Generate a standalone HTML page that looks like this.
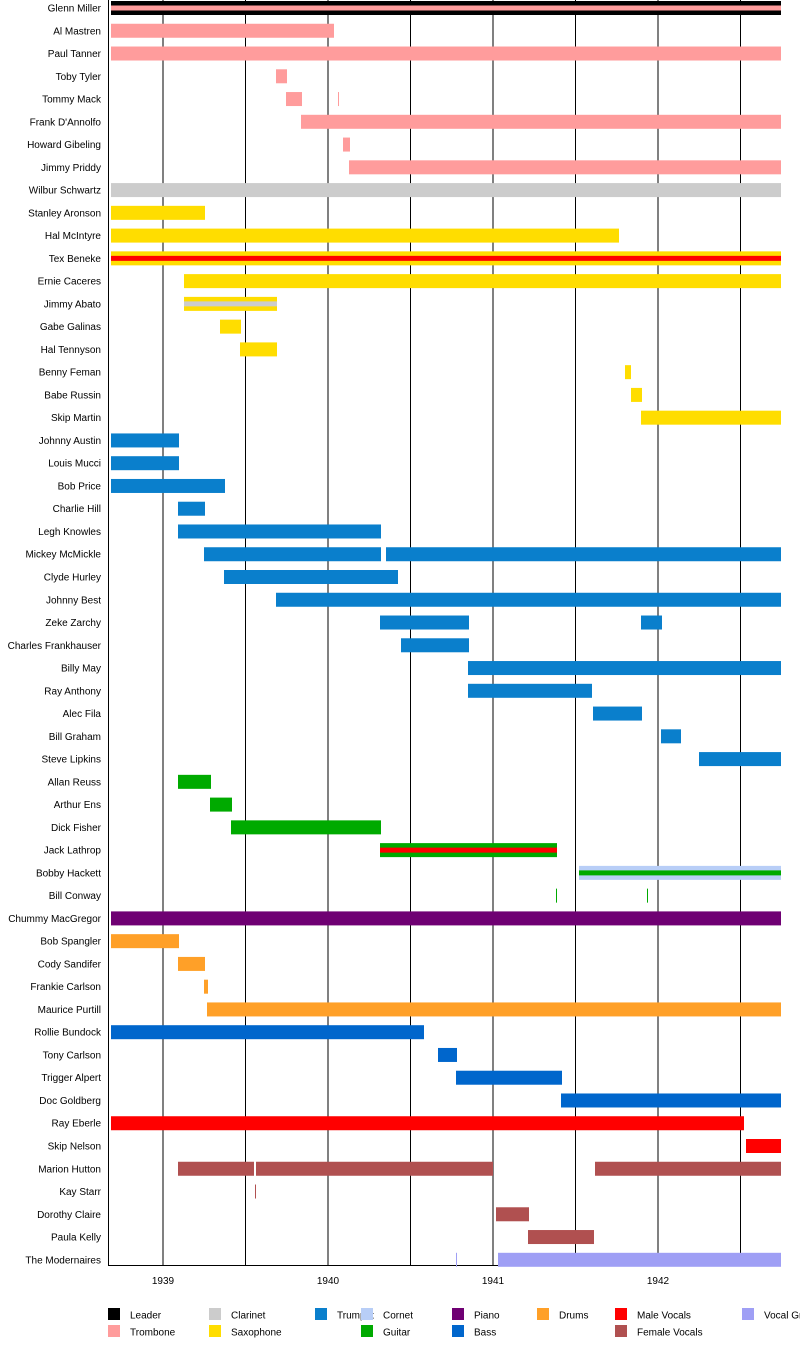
<!DOCTYPE html>
<html><head><meta charset="utf-8"><style>body{margin:0;background:#fff}svg{display:block}text{font-family:"Liberation Sans",sans-serif;font-size:10px}</style></head><body>
<svg id="s" width="800" height="1345" xmlns="http://www.w3.org/2000/svg">
<g stroke="#000" stroke-width="1">
<line x1="163" y1="0" x2="163" y2="1265"/><line x1="245.5" y1="0" x2="245.5" y2="1265"/><line x1="328" y1="0" x2="328" y2="1265"/><line x1="410.5" y1="0" x2="410.5" y2="1265"/><line x1="493" y1="0" x2="493" y2="1265"/><line x1="575.5" y1="0" x2="575.5" y2="1265"/><line x1="658" y1="0" x2="658" y2="1265"/><line x1="740.5" y1="0" x2="740.5" y2="1265"/>
<line x1="108.5" y1="0" x2="108.5" y2="1265"/><line x1="108" y1="1265.5" x2="781" y2="1265.5"/>
</g>
<g text-anchor="middle"><text x="163" y="1284">1939</text><text x="328" y="1284">1940</text><text x="493" y="1284">1941</text><text x="658" y="1284">1942</text></g>
<g id="bars"></g>
<g id="labels" text-anchor="end"></g>
<g id="leg"></g>
</svg>
<script>
var C={tb:"#ff9c9c",cl:"#cccccc",sx:"#ffdd00",tr:"#0a7fcc",gt:"#00aa00",co:"#b8cef7",pi:"#6f0073",dr:"#ffa028",bs:"#0066cc",mv:"#ff0000",fv:"#b05050",vg:"#9f9ff5",ld:"#000000"};
var R=[
["Glenn Miller","ld",[[111,781]],"tb"],["Al Mastren","tb",[[111,334]]],["Paul Tanner","tb",[[111,781]]],["Toby Tyler","tb",[[276,287]]],["Tommy Mack","tb",[[286,302],[338,339]]],["Frank D'Annolfo","tb",[[301,781]]],["Howard Gibeling","tb",[[343,350]]],["Jimmy Priddy","tb",[[349,781]]],
["Wilbur Schwartz","cl",[[111,781]]],["Stanley Aronson","sx",[[111,205]]],["Hal McIntyre","sx",[[111,619]]],["Tex Beneke","sx",[[111,781]],"mv"],["Ernie Caceres","sx",[[184,781]]],["Jimmy Abato","sx",[[184,277]],"cl"],["Gabe Galinas","sx",[[220,241]]],["Hal Tennyson","sx",[[240,277]]],["Benny Feman","sx",[[625,631]]],["Babe Russin","sx",[[631,642]]],["Skip Martin","sx",[[641,781]]],
["Johnny Austin","tr",[[111,179]]],["Louis Mucci","tr",[[111,179]]],["Bob Price","tr",[[111,225]]],["Charlie Hill","tr",[[178,205]]],["Legh Knowles","tr",[[178,381]]],["Mickey McMickle","tr",[[204,381],[386,781]]],["Clyde Hurley","tr",[[224,398]]],["Johnny Best","tr",[[276,781]]],["Zeke Zarchy","tr",[[380,469],[641,662]]],["Charles Frankhauser","tr",[[401,469]]],["Billy May","tr",[[468,781]]],["Ray Anthony","tr",[[468,592]]],["Alec Fila","tr",[[593,642]]],["Bill Graham","tr",[[661,681]]],["Steve Lipkins","tr",[[699,781]]],
["Allan Reuss","gt",[[178,211]]],["Arthur Ens","gt",[[210,232]]],["Dick Fisher","gt",[[231,381]]],["Jack Lathrop","gt",[[380,557]],"mv"],["Bobby Hackett","co",[[579,781]],"gt"],["Bill Conway","gt",[[556,557],[647,648]]],
["Chummy MacGregor","pi",[[111,781]]],["Bob Spangler","dr",[[111,179]]],["Cody Sandifer","dr",[[178,205]]],["Frankie Carlson","dr",[[204,208]]],["Maurice Purtill","dr",[[207,781]]],
["Rollie Bundock","bs",[[111,424]]],["Tony Carlson","bs",[[438,457]]],["Trigger Alpert","bs",[[456,562]]],["Doc Goldberg","bs",[[561,781]]],
["Ray Eberle","mv",[[111,744]]],["Skip Nelson","mv",[[746,781]]],["Marion Hutton","fv",[[178,254],[256,493],[595,781]]],["Kay Starr","fv",[[255,256]]],["Dorothy Claire","fv",[[496,529]]],["Paula Kelly","fv",[[528,594]]],["The Modernaires","vg",[[456,457],[498,781]]]];
var ns="http://www.w3.org/2000/svg",B=document.getElementById("bars"),L=document.getElementById("labels"),G=document.getElementById("leg");
function rect(p,x,y,w,h,f){var r=document.createElementNS(ns,"rect");r.setAttribute("x",x);r.setAttribute("y",y);r.setAttribute("width",w);r.setAttribute("height",h);r.setAttribute("fill",f);p.appendChild(r);}
function txt(p,x,y,s){var t=document.createElementNS(ns,"text");t.setAttribute("x",x);t.setAttribute("y",y);t.textContent=s;p.appendChild(t);}
R.forEach(function(r,i){var y=8+i*22.76;txt(L,101,y+3.5,r[0]);r[2].forEach(function(s){var w=s[1]-s[0];
if(w<=2){rect(B,s[0],y-7,1,14,C[r[1]]);return;}rect(B,s[0],y-7,w,14,C[r[1]]);if(r[3])rect(B,s[0],y-2.5,w,5,C[r[3]]);});});
var lg=[["Leader","ld",108,1315],["Trombone","tb",108,1332],["Clarinet","cl",209,1315],["Saxophone","sx",209,1332],["Trumpet","tr",315,1315],["Cornet","co",361,1315],["Guitar","gt",361,1332],["Piano","pi",452,1315],["Bass","bs",452,1332],["Drums","dr",537,1315],["Male Vocals","mv",615,1315],["Female Vocals","fv",615,1332],["Vocal Group","vg",742,1315]];
lg.forEach(function(l){rect(G,l[2],l[3]-7,12,12,C[l[1]]);txt(G,l[2]+22,l[3]+3.5,l[0]);});
</script>
</body></html>
